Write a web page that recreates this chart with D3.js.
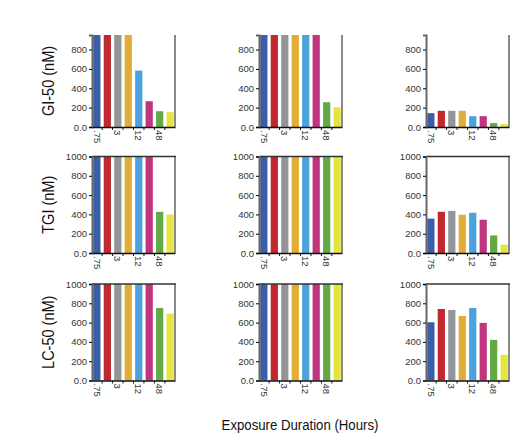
<!DOCTYPE html>
<html>
<head>
<meta charset="utf-8">
<script src="https://cdn.jsdelivr.net/npm/d3@7"></script>
<style>
  body { margin: 0; background: #fff; }
  svg { font-family: "Liberation Sans Narrow", "Arial Narrow", "Liberation Sans", sans-serif; }
  .tick text { fill: #333; }
</style>
</head>
<body>
<svg width="510" height="435"></svg>
<script>
// exposure durations (hours), only every other one is labelled
const categories = [".75", "1.5", "3", "6", "12", "24", "48", "72"];
const shownLabels = [".75", "3", "12", "48"];
const barColors = ["#3b5ea8", "#c1272f", "#939598", "#e1ad36", "#4ca2dc", "#c1357f", "#63aa45", "#e5e53f"];

// rows: GI-50, TGI, LC-50 ; columns: three compounds
const rowTitles = ["GI-50 (nM)", "TGI (nM)", "LC-50 (nM)"];
const gi50 = [
    [1000, 1000, 1000, 1000, 583, 266, 163, 153],
    [1000, 1000, 1000, 1000, 1000, 1000, 256, 204],
    [143, 167, 167, 167, 112, 112, 41, 31]
];
const tgi = [
    [1000, 1000, 1000, 1000, 1000, 1000, 426, 398],
    [1000, 1000, 1000, 1000, 1000, 1000, 1000, 1000],
    [356, 427, 437, 397, 417, 345, 182, 86]
];
const lc50 = [
    [1000, 1000, 1000, 1000, 1000, 1000, 752, 693],
    [1000, 1000, 1000, 1000, 1000, 1000, 1000, 1000],
    [604, 741, 731, 669, 752, 597, 421, 266]
];
const yTicksTop = [0, 200, 400, 600, 800];
const yTicks = [0, 200, 400, 600, 800, 1000];

const rows = [gi50, tgi, lc50];

const svg = d3.select("svg");

// panel geometry
const colX = [92, 259, 426];
const panelW = 83;
const rowGeom = [
    { bottom: 127, top: 35, max: 950, ticks: yTicksTop, boxTop: false },
    { bottom: 253, top: 156.5, max: 1000, ticks: yTicks, boxTop: true },
    { bottom: 380.5, top: 284, max: 1000, ticks: yTicks, boxTop: true }
];

rows.forEach((rowData, r) => {
    const g = rowGeom[r];
    rowData.forEach((values, c) => {
        const x0 = colX[c];
        const panel = svg.append("g").attr("transform", `translate(${x0},0)`);

        const xScale = d3.scaleBand()
            .domain(categories)
            .range([0, panelW])
            .paddingInner(0.31)
            .paddingOuter(0.12);

        const yScale = d3.scaleLinear()
            .domain([0, g.max])
            .range([g.bottom, g.top]);

        // bars, cut at the top of the plot
        panel.append("g").selectAll("rect")
            .data(values)
            .join("rect")
            .attr("x", (d, i) => xScale(categories[i]))
            .attr("width", xScale.bandwidth())
            .attr("y", d => yScale(Math.min(d, g.max)))
            .attr("height", d => g.bottom - yScale(Math.min(d, g.max)))
            .attr("fill", (d, i) => barColors[i]);

        // right border
        panel.append("line")
            .attr("x1", panelW).attr("x2", panelW)
            .attr("y1", g.top).attr("y2", g.bottom)
            .attr("stroke", "#8a8a8a").attr("stroke-width", 2);
        if (g.boxTop) {
            panel.append("line")
                .attr("x1", 0).attr("x2", panelW + 1)
                .attr("y1", g.top).attr("y2", g.top)
                .attr("stroke", "#333").attr("stroke-width", 1.5);
        }

        // y axis
        const yAxis = panel.append("g")
            .call(d3.axisLeft(yScale)
                .tickValues(g.ticks)
                .tickSize(3)
                .tickPadding(2)
                .tickFormat(d => d === 0 ? "0.0" : d));
        yAxis.select(".domain").attr("stroke", "#666").attr("stroke-width", 2);
        yAxis.selectAll("text").attr("font-size", 9.5);

        // x axis: ticks at the band boundaries, labels under every other bar
        const xAxis = panel.append("g")
            .attr("transform", `translate(0,${g.bottom})`)
            .call(d3.axisBottom(xScale).tickSize(0).tickFormat(d => shownLabels.includes(d) ? d : ""));
        xAxis.select(".domain").attr("stroke", "#111").attr("stroke-width", 1.5);
        xAxis.selectAll("text")
            .attr("font-size", 9.5)
            .attr("text-anchor", "start")
            .attr("dy", "0.35em")
            .attr("transform", "translate(0,3) rotate(90)")
            .attr("x", 0).attr("y", 0);

        const half = xScale.step() * xScale.paddingInner() / 2;
        xAxis.selectAll(".bound")
            .data(categories.slice(1))
            .join("line")
            .attr("class", "bound")
            .attr("x1", d => xScale(d) - half).attr("x2", d => xScale(d) - half)
            .attr("y1", 0).attr("y2", 3)
            .attr("stroke", "#111");
    });

    // row title (condensed look)
    svg.append("text")
        .attr("transform", `translate(54,${(g.top + g.bottom) / 2}) rotate(-90) scale(0.88,1)`)
        .attr("text-anchor", "middle")
        .attr("font-size", 16.5)
        .attr("fill", "#111")
        .text(rowTitles[r]);
});

// x axis title
svg.append("text")
    .attr("transform", "translate(300,430) scale(0.88,1)")
    .attr("text-anchor", "middle")
    .attr("font-size", 15)
    .attr("fill", "#111")
    .text("Exposure Duration (Hours)");
</script>
</body>
</html>
